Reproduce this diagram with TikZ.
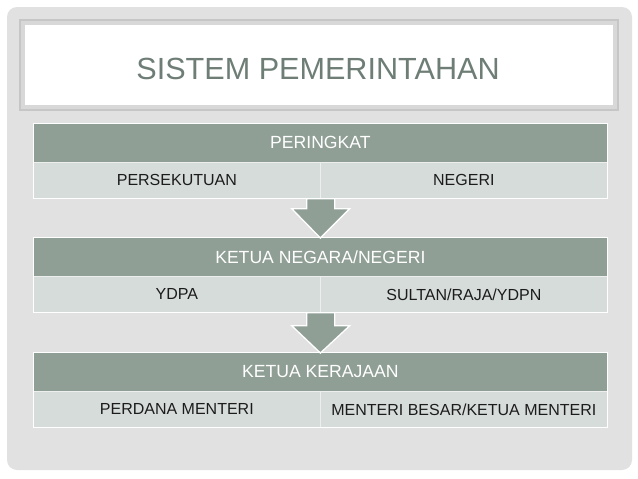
\documentclass[tikz,border=0pt]{standalone}
\usepackage{fontspec}
\setmainfont{Liberation Sans}
\usetikzlibrary{calc}
\definecolor{panel}{HTML}{E1E1E1}
\definecolor{hdr}{HTML}{8F9F95}
\definecolor{rowc}{HTML}{D6DCD9}
\definecolor{titlec}{HTML}{6E7E76}
\definecolor{txt}{HTML}{1C1C1C}
\definecolor{bordA}{HTML}{C6C6C6}
\definecolor{bordB}{HTML}{D8D8D8}
\begin{document}
\begin{tikzpicture}[x=1pt,y=-1pt,
  hdrbox/.style={fill=hdr, draw=white, line width=0.8pt, minimum width=574pt, minimum height=39pt, inner sep=0pt, anchor=north west, text=white, font=\fontsize{17.6}{20}\selectfont},
  cellbox/.style={fill=rowc, draw=white!55!rowc, line width=0.7pt, minimum width=287pt, minimum height=36pt, inner sep=0pt, anchor=north west, text=txt, font=\fontsize{16}{19}\selectfont},
  blockarrow/.style={fill=hdr, draw=white, line width=1.3pt, line join=miter}]
\useasboundingbox (0,0) rectangle (638,479);
\fill[white] (0,0) rectangle (638,479);
\fill[panel, rounded corners=10pt] (7,7) rectangle (632,470);
% title box
\fill[bordA] (19,19) rectangle (619,111);
\fill[bordB] (21,21) rectangle (617,109);
\fill[white] (25,25) rectangle (613,105);
\node[text=titlec, font=\fontsize{30.6}{36}\selectfont, inner sep=0pt, anchor=base] (title) at (318,79) {SISTEM PEMERINTAHAN};
% table 1
\node[hdrbox] (h1) at (33,123) {PERINGKAT};
\node[cellbox] (a1) at (33,162) {PERSEKUTUAN};
\node[cellbox] (b1) at (320,162) {NEGERI};
% table 2
\node[hdrbox] (h2) at (33,237) {KETUA NEGARA/NEGERI};
\node[cellbox] (a2) at (33,276) {YDPA};
\node[cellbox] (b2) at (320,276) {SULTAN/RAJA/YDPN};
% table 3
\node[hdrbox] (h3) at (33,352) {KETUA KERAJAAN};
\node[cellbox] (a3) at (33,391) {PERDANA MENTERI};
\node[cellbox] (b3) at (320,391) {MENTERI BESAR/KETUA MENTERI};
% outer white outlines of tables
\draw[white, line width=0.8pt] (h1.north west) rectangle (b1.south east);
\draw[white, line width=0.8pt] (h2.north west) rectangle (b2.south east);
\draw[white, line width=0.8pt] (h3.north west) rectangle (b3.south east);
% block arrows
\coordinate (s1) at (a1.south east);
\coordinate (t1) at ([yshift=-1pt]h2.north);
\draw[blockarrow] ($(s1)+(-14,0)$) -- ($(s1)+(14,0)$) -- ($(s1)+(14,10)$) -- ($(s1)+(29,10)$) -- (t1) -- ($(s1)+(-29,10)$) -- ($(s1)+(-14,10)$) -- cycle;
\coordinate (s2) at (a2.south east);
\coordinate (t2) at ([yshift=-1pt]h3.north);
\draw[blockarrow] ($(s2)+(-14,0)$) -- ($(s2)+(14,0)$) -- ($(s2)+(14,13)$) -- ($(s2)+(29,13)$) -- (t2) -- ($(s2)+(-29,13)$) -- ($(s2)+(-14,13)$) -- cycle;
\end{tikzpicture}
\end{document}
